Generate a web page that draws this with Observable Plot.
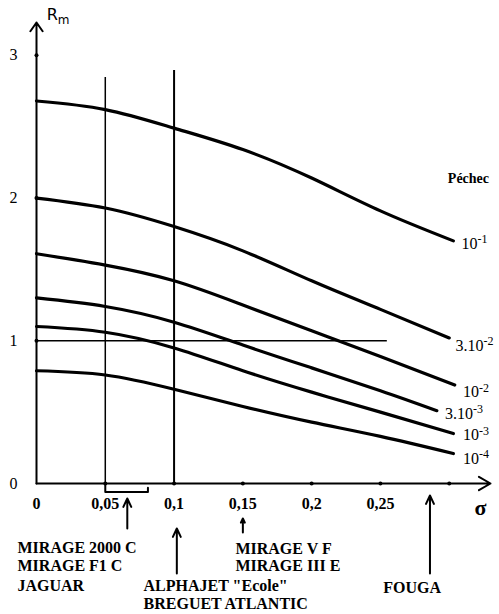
<!DOCTYPE html>
<html>
<head>
<meta charset="utf-8">
<script src="https://cdn.jsdelivr.net/npm/d3@7"></script>
<script src="https://cdn.jsdelivr.net/npm/@observablehq/plot@0.6"></script>
<style>
  html, body { margin: 0; padding: 0; background: #fff; }
  svg { display: block; }
</style>
</head>
<body>
<div id="chart"></div>
<script>
// sigma values along each curve (last point differs per curve: see lastSigma)
const sigma = [0, 0.05, 0.1, 0.15, 0.2, 0.25];
const lastSigma = [0.303, 0.30, 0.304, 0.291, 0.303, 0.303];
// Rm values for each failure probability (Péchec)
const r_1e1  = [2.68, 2.62, 2.49, 2.34, 2.14, 1.91, 1.70];
const r_3e2  = [2.00, 1.93, 1.80, 1.63, 1.42, 1.22, 1.02];
const r_1e2  = [1.61, 1.53, 1.42, 1.25, 1.07, 0.89, 0.69];
const r_3e3  = [1.30, 1.24, 1.13, 0.97, 0.81, 0.65, 0.51];
const r_1e3  = [1.10, 1.06, 0.95, 0.79, 0.64, 0.50, 0.35];
const r_1e4  = [0.79, 0.76, 0.66, 0.54, 0.43, 0.33, 0.21];
const seriesBase = ["10", "3.10", "10", "3.10", "10", "10"];
const seriesExp = ["-1", "-2", "-2", "-3", "-3", "-4"];
const seriesValues = [r_1e1, r_3e2, r_1e2, r_3e3, r_1e3, r_1e4];

// curve labels (right side)
const labelX = [0.309, 0.3045, 0.310, 0.297, 0.310, 0.310];
const labelY = [1.68, 0.967, 0.64, 0.49, 0.34, 0.175];

// axis ticks
const xTicks = [0, 0.05, 0.1, 0.15, 0.2, 0.25];
const xTickLabels = ["0", "0,05", "0,1", "0,15", "0,2", "0,25"];
const xTickDots = [0.05, 0.1, 0.15, 0.2, 0.25, 0.3];
const yTicks = [0, 1, 2, 3];
const yTickLabels = ["0", "1", "2", "3"];

// aircraft annotations
const aircraftLines = [
  {x: -0.0138, y: -0.448, t: "MIRAGE 2000 C"},
  {x: -0.0138, y: -0.575, t: "MIRAGE F1 C"},
  {x: -0.0138, y: -0.715, t: "JAGUAR"},
  {x: 0.0778, y: -0.715, t: "ALPHAJET \"Ecole\""},
  {x: 0.0778, y: -0.845, t: "BREGUET ATLANTIC"},
  {x: 0.1446, y: -0.455, t: "MIRAGE V F"},
  {x: 0.1446, y: -0.575, t: "MIRAGE III E"},
  {x: 0.252, y: -0.73, t: "FOUGA"}
];
const aircraftArrows = [
  {x: 0.066, y1: -0.315, y2: -0.105},
  {x: 0.102, y1: -0.63, y2: -0.315},
  {x: 0.150, y1: -0.343, y2: -0.245},
  {x: 0.286, y1: -0.63, y2: -0.084}
];
const bracket = [
  {x: 0.05, y: 0}, {x: 0.05, y: -0.06}, {x: 0.081, y: -0.06}, {x: 0.081, y: -0.03}
];

const curves = [];
seriesValues.forEach((vals, i) => {
  const xs = sigma.concat([lastSigma[i]]);
  vals.forEach((v, j) => curves.push({s: i, x: xs[j], y: v}));
});
const labels = seriesBase.map((b, i) => ({t: b + "^" + seriesExp[i], x: labelX[i], y: labelY[i]}));

const serif = "'Liberation Serif', 'DejaVu Serif', serif";

const chart = Plot.plot({
  width: 499,
  height: 614,
  marginLeft: 36,
  marginRight: 9,
  marginTop: 22,
  marginBottom: 131,
  x: {domain: [0, 0.33], axis: null},
  y: {domain: [0, 3.23], axis: null},
  style: {background: "#fff", color: "#000"},
  marks: [
    // axes with arrows
    Plot.arrow([{x1: 0, y1: 0, x2: 0, y2: 3.23}], {x1: "x1", y1: "y1", x2: "x2", y2: "y2", stroke: "#000", strokeWidth: 2, headLength: 8, headAngle: 70}),
    Plot.arrow([{x1: 0, y1: 0, x2: 0.33, y2: 0}], {x1: "x1", y1: "y1", x2: "x2", y2: "y2", stroke: "#000", strokeWidth: 2, headLength: 10, headAngle: 60}),
    Plot.dot(xTickDots, {x: d => d, y: 0, r: 2, fill: "#000"}),
    Plot.dot([1, 2, 3], {x: 0, y: d => d, r: 2, fill: "#000"}),
    // reference lines
    Plot.ruleX([0.05], {y1: 0, y2: 2.845, stroke: "#000", strokeWidth: 1.5}),
    Plot.ruleX([0.1], {y1: 0, y2: 2.894, stroke: "#000", strokeWidth: 2}),
    Plot.ruleY([1], {x1: 0, x2: 0.255, stroke: "#000", strokeWidth: 1.5}),
    // curves
    Plot.line(curves, {x: "x", y: "y", z: "s", curve: "natural", stroke: "#000", strokeWidth: 3.2}),
    // tick labels
    Plot.text(xTicks, {x: d => d, y: 0, text: (d, i) => xTickLabels[i], dy: 20, fontSize: 16, fontWeight: "bold", fontFamily: serif}),
    Plot.text(yTicks, {x: 0, y: d => d, text: (d, i) => yTickLabels[i], dx: -23, fontSize: 16, fontFamily: serif}),
    // axis titles
    Plot.text(["R"], {x: 0.0075, y: 3.28, text: d => d, textAnchor: "start", fontSize: 16, fontFamily: "'DejaVu Sans', sans-serif"}),
    Plot.text(["m"], {x: 0.0075, y: 3.28, text: d => d, textAnchor: "start", dx: 11, dy: 5, fontSize: 12, fontFamily: "'DejaVu Sans', sans-serif"}),
    Plot.text(["σ"], {x: 0.3227, y: -0.17, text: d => d, fontSize: 22, fontWeight: "bold", fontFamily: serif}),
    Plot.text(["Péchec"], {x: 0.299, y: 2.14, text: d => d, textAnchor: "start", fontSize: 14, fontWeight: "bold", fontFamily: serif}),
    // curve labels
    Plot.text(labels, {x: "x", y: "y", text: "t", textAnchor: "start", fontSize: 16, fontFamily: serif, className: "curve-label"}),
    // aircraft annotations
    Plot.line(bracket, {x: "x", y: "y", stroke: "#000", strokeWidth: 2}),
    Plot.arrow(aircraftArrows, {x1: "x", y1: "y1", x2: "x", y2: "y2", stroke: "#000", strokeWidth: 2, headLength: 7, headAngle: 50}),
    Plot.text(aircraftLines, {x: "x", y: "y", text: "t", textAnchor: "start", fontSize: 16, fontWeight: "bold", fontFamily: serif})
  ]
});
// turn "base^exp" labels into base + superscript tspan
d3.select(chart).selectAll(".curve-label text").each(function() {
  const el = d3.select(this);
  const parts = el.text().split("^");
  el.text(null);
  el.append("tspan").text(parts[0]);
  el.append("tspan").attr("dy", "-0.45em").attr("font-size", "12").text(parts[1]);
});
document.getElementById("chart").appendChild(chart);
</script>
</body>
</html>
